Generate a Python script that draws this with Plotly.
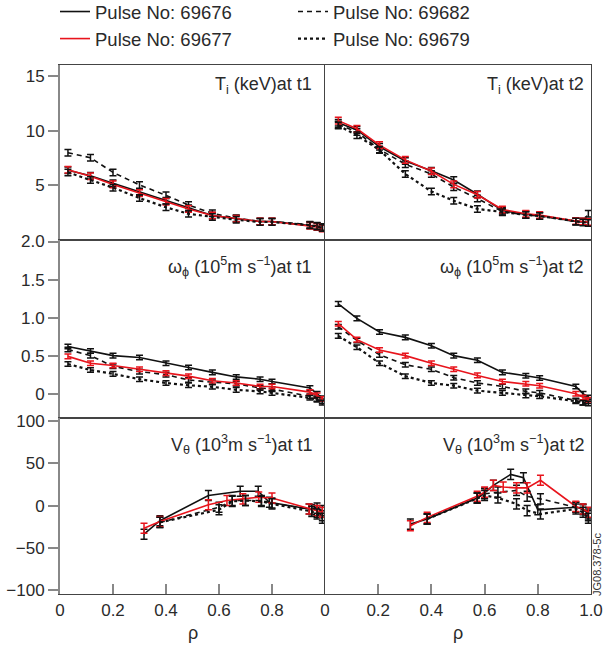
import plotly.graph_objects as go
from plotly.subplots import make_subplots

# ---------------- data ----------------
pulses = ["69676", "69682", "69677", "69679"]
colors = {"69676": "#111111", "69682": "#111111", "69677": "#e8141c", "69679": "#111111"}
dashes = {"69676": "solid", "69682": "5px,4px", "69677": "solid", "69679": "dot"}

rho_t1 = [0.03, 0.115, 0.2, 0.3, 0.4, 0.485, 0.575, 0.665, 0.755, 0.80, 0.943, 0.97, 0.99]
rho_t2 = [0.05, 0.12, 0.205, 0.302, 0.4, 0.484, 0.573, 0.667, 0.755, 0.807, 0.943, 0.97, 0.99]

ti_t1 = {
    "69676": [6.4, 5.9, 5.2, 4.4, 3.6, 2.9, 2.25, 1.95, 1.7, 1.7, 1.35, 1.25, 1.1],
    "69677": [6.45, 5.85, 5.1, 4.3, 3.5, 2.85, 2.25, 1.95, 1.7, 1.7, 1.3, 1.2, 1.05],
    "69682": [8.0, 7.55, 6.2, 5.05, 4.1, 3.2, 2.45, 2.0, 1.7, 1.7, 1.4, 1.3, 1.2],
    "69679": [6.2, 5.5, 4.8, 3.85, 3.0, 2.4, 2.1, 1.85, 1.65, 1.65, 1.35, 1.25, 1.1],
}
ti_t2 = {
    "69676": [10.75, 10.1, 8.55, 7.25, 6.35, 5.5, 4.2, 2.7, 2.35, 2.25, 1.7, 1.65, 1.6],
    "69677": [10.95, 10.2, 8.7, 7.35, 6.3, 5.1, 4.15, 2.8, 2.4, 2.3, 1.75, 1.7, 1.65],
    "69682": [10.6, 9.9, 8.3, 6.95, 6.05, 4.85, 3.8, 2.6, 2.3, 2.2, 1.7, 1.7, 2.4],
    "69679": [10.5, 9.6, 8.25, 6.05, 4.45, 3.6, 2.85, 2.55, 2.3, 2.2, 1.7, 1.6, 1.55],
}
om_t1 = {
    "69676": [0.62, 0.56, 0.50, 0.475, 0.40, 0.345, 0.28, 0.22, 0.19, 0.16, 0.075, 0.0, -0.06],
    "69677": [0.49, 0.40, 0.37, 0.32, 0.27, 0.23, 0.17, 0.14, 0.095, 0.095, 0.02, -0.02, -0.07],
    "69682": [0.58, 0.50, 0.36, 0.29, 0.25, 0.18, 0.15, 0.13, 0.075, 0.06, -0.035, -0.07, -0.10],
    "69679": [0.39, 0.31, 0.26, 0.19, 0.14, 0.11, 0.09, 0.05, 0.03, 0.01, -0.055, -0.08, -0.12],
}
om_t2 = {
    "69676": [1.18, 0.99, 0.81, 0.74, 0.63, 0.50, 0.44, 0.28, 0.235, 0.205, 0.095, 0.0, -0.05],
    "69677": [0.92, 0.71, 0.575, 0.50, 0.40, 0.32, 0.24, 0.16, 0.13, 0.105, 0.0, -0.05, -0.08],
    "69682": [0.88, 0.70, 0.51, 0.38, 0.32, 0.21, 0.14, 0.095, 0.03, 0.01, -0.09, -0.12, -0.10],
    "69679": [0.76, 0.61, 0.40, 0.23, 0.14, 0.105, 0.04, 0.01, -0.025, -0.035, -0.10, -0.12, -0.13],
}
vt_rho_t1 = {
    "69676": [0.317, 0.377, 0.56, 0.68, 0.748, 0.79, 0.94, 0.97, 0.99],
    "69677": [0.317, 0.377, 0.56, 0.63, 0.69, 0.75, 0.80, 0.94, 0.97, 0.99],
    "69682": [0.377, 0.60, 0.65, 0.70, 0.76, 0.80, 0.95, 0.97, 0.99],
    "69679": [0.377, 0.60, 0.65, 0.70, 0.76, 0.80, 0.95, 0.97, 0.99],
}
vt_t1 = {
    "69676": [-34, -18, 12, 17, 17, 4, -4, -3, -6],
    "69677": [-27, -19, 1, 6, 8, 10, 9, -4, -6, -8],
    "69682": [-20, -2, 6, 6, 6, 3, -5, -8, -12],
    "69679": [-20, -5, 5, 6, 5, 2, -7, -10, -15],
}
vt_rho_t2 = {
    "69676": [0.321, 0.384, 0.572, 0.60, 0.633, 0.698, 0.746, 0.80, 0.943, 0.97, 0.99],
    "69677": [0.321, 0.384, 0.572, 0.60, 0.633, 0.67, 0.72, 0.76, 0.81, 0.943, 0.97, 0.99],
    "69682": [0.384, 0.572, 0.60, 0.65, 0.72, 0.76, 0.81, 0.943, 0.97, 0.99],
    "69679": [0.384, 0.572, 0.60, 0.65, 0.72, 0.76, 0.81, 0.943, 0.97, 0.99],
}
vt_t2 = {
    "69676": [-22, -16, 9, 15, 24, 37, 33, -5, -2, -4, -10],
    "69677": [-24, -14, 11, 16, 24, 22, 21, 21, 30, -1, -4, -8],
    "69682": [-16, 9, 14, 16, 18, 11, 8, -2, -5, -12],
    "69679": [-16, 9, 12, 9, 2, -6, -10, -4, -8, -15],
}
err_ti = 0.3
err_om = 0.03
err_vt = 6

panel_titles = [
    "T<sub>i</sub> (keV)at t1", "T<sub>i</sub> (keV)at t2",
    "ω<sub>ϕ</sub> (10<sup>5</sup>m s<sup>−1</sup>)at t1", "ω<sub>ϕ</sub> (10<sup>5</sup>m s<sup>−1</sup>)at t2",
    "V<sub>θ</sub> (10<sup>3</sup>m s<sup>−1</sup>)at t1", "V<sub>θ</sub> (10<sup>3</sup>m s<sup>−1</sup>)at t2",
]
ti_ticks = [5, 10, 15]
om_ticks = [0, 0.5, 1.0, 1.5, 2.0]
om_ticktext = ["0", "0.5", "1.0", "1.5", "2.0"]
vt_ticks = [-100, -50, 0, 50, 100]
vt_ticktext = ["−100", "−50", "0", "50", "100"]
x_ticks_left = [0, 0.2, 0.4, 0.6, 0.8]
x_ticktext_left = ["0", "0.2", "0.4", "0.6", "0.8"]
x_ticks_right = [0, 0.2, 0.4, 0.6, 0.8, 1.0]
x_ticktext_right = ["0", "0.2", "0.4", "0.6", "0.8", "1.0"]

# ---------------- figure ----------------
FONT = "Liberation Sans, Arial, Helvetica, sans-serif"
W, H = 604, 655
fig = make_subplots(rows=3, cols=2, horizontal_spacing=0, vertical_spacing=0)

def add(row, col, xs, ys, p, err, show):
    fig.add_trace(go.Scatter(
        x=xs, y=ys, mode="lines", name="Pulse No: " + p, legendgroup=p, showlegend=show,
        line=dict(color=colors[p], dash=dashes[p], width=1.6 if dashes[p] != "dot" else 2.2),
        error_y=dict(type="constant", value=err, color=colors[p], thickness=1.5, width=3.5),
    ), row=row, col=col)

for i, p in enumerate(pulses):
    add(1, 1, rho_t1, ti_t1[p], p, err_ti, True)
    add(1, 2, rho_t2, ti_t2[p], p, err_ti, False)
    add(2, 1, rho_t1, om_t1[p], p, err_om, False)
    add(2, 2, rho_t2, om_t2[p], p, err_om, False)
    add(3, 1, vt_rho_t1[p], vt_t1[p], p, err_vt, False)
    add(3, 2, vt_rho_t2[p], vt_t2[p], p, err_vt, False)

xl = [60 / W, 325 / W]
xr = [325 / W, 591 / W]
yd = [[1 - 240 / H, 1 - 65 / H], [1 - 418 / H, 1 - 240 / H], [1 - 594 / H, 1 - 418 / H]]
yranges = [[0, 16.05], [-0.32, 2.02], [-105, 104]]

tickfont = dict(family=FONT, size=17, color="#2a2a2a")
LC = "#444444"
for r in range(3):
    for c in range(2):
        idx = r * 2 + c + 1
        xa = "xaxis" if idx == 1 else f"xaxis{idx}"
        ya = "yaxis" if idx == 1 else f"yaxis{idx}"
        bottom = (r == 2)
        xkw = dict(domain=xl if c == 0 else xr, range=[0, 1], showgrid=False, zeroline=False,
                   showline=True, linecolor=LC, linewidth=1.2, mirror=True,
                   showticklabels=bottom, ticks="inside" if bottom else "",
                   ticklen=10, tickwidth=1.5, tickcolor="#888888", tickfont=tickfont,
                   automargin=False)
        if bottom:
            xkw["tickvals"] = x_ticks_left if c == 0 else x_ticks_right
            xkw["ticktext"] = x_ticktext_left if c == 0 else x_ticktext_right
        fig.layout[xa].update(**xkw)
        ykw = dict(domain=yd[r], range=yranges[r], showgrid=False, zeroline=False,
                   showline=True, linecolor=LC if c == 1 else "#888888",
                   linewidth=1.2 if c == 1 else 2, mirror=(c == 1),
                   showticklabels=(c == 0), ticks="outside" if c == 0 else "",
                   ticklen=10, tickwidth=2, tickcolor="#888888", tickfont=tickfont,
                   automargin=False)
        if c == 0:
            if r == 0:
                ykw["tickvals"] = ti_ticks
            elif r == 1:
                ykw["tickvals"] = om_ticks
                ykw["ticktext"] = om_ticktext
            else:
                ykw["tickvals"] = vt_ticks
                ykw["ticktext"] = vt_ticktext
        fig.layout[ya].update(**ykw)

annotations = []
title_y = [0.96, 0.93, 0.93]
for k, t in enumerate(panel_titles):
    r, c = divmod(k, 2)
    idx = k + 1
    annotations.append(dict(
        text=t, xref=("x" if idx == 1 else f"x{idx}") + " domain",
        yref=("y" if idx == 1 else f"y{idx}") + " domain",
        x=0.96 if c == 0 else 0.98, y=title_y[r], xanchor="right", yanchor="top",
        showarrow=False, font=dict(family=FONT, size=18, color="#2a2a2a")))
for c, xd in enumerate([xl, xr]):
    annotations.append(dict(text="ρ", xref="paper", yref="paper", x=(xd[0] + xd[1]) / 2,
                            y=1 - 633 / H, xanchor="center", yanchor="middle", showarrow=False,
                            font=dict(family=FONT, size=18, color="#2a2a2a")))
annotations.append(dict(text="JG08.378-5c", xref="paper", yref="paper", x=597 / W, y=1 - 565 / H,
                        textangle=-90, xanchor="center", yanchor="middle", showarrow=False,
                        font=dict(family=FONT, size=11, color="#333333")))

fig.update_layout(
    width=W, height=H, margin=dict(l=0, r=0, t=0, b=0, autoexpand=False),
    paper_bgcolor="white", plot_bgcolor="white",
    font=dict(family=FONT, color="#2a2a2a"),
    annotations=annotations,
    legend=dict(orientation="h", x=55 / W, y=1 + 7 / H, xanchor="left", yanchor="top",
                entrywidth=193, entrywidthmode="pixels", tracegroupgap=0, itemwidth=30,
                font=dict(family=FONT, size=18.5, color="#2a2a2a"), bgcolor="rgba(0,0,0,0)"),
)

fig.write_html("out.html")
